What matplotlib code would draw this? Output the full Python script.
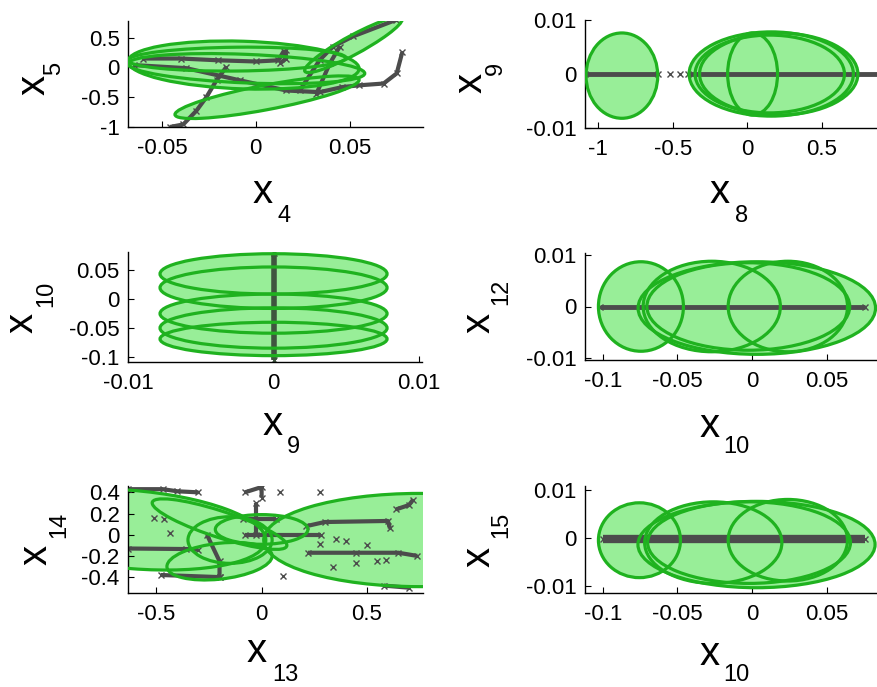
import matplotlib
matplotlib.use("Agg")
import matplotlib.pyplot as plt
from matplotlib.patches import Ellipse
from matplotlib.transforms import Affine2D
from matplotlib.ticker import FixedLocator, FuncFormatter

plt.rcParams['font.family'] = ['Liberation Sans', 'DejaVu Sans']

# ---------------------------------------------------------------
# Ellipses: (centre x, centre y, half-width, half-height, y-shift at the x extremes)
# Trajectories: polylines of the simulated states
# ---------------------------------------------------------------

# x4 / x5
p1_ellipses = [(-0.0065, 0.04, 0.0615, 0.40, -0.06),
               (-0.005, -0.02, 0.063, 0.24, -0.08),
               (-0.010, 0.14, 0.058, 0.20, 0.02),
               (0.006, -0.50, 0.049, 0.21, 0.29),
               (0.052, 0.38, 0.026, 0.18, 0.43)]
p1_tracks_x = [[-0.0457, -0.0386, -0.0316, -0.0263, -0.0209, -0.0156],
               [-0.065, -0.037, -0.0085, 0.0163, 0.034, 0.046, 0.055, 0.068, 0.075, 0.078],
               [-0.060, -0.040, -0.020, 0.0, 0.012, 0.015],
               [0.0234, 0.034, 0.0411, 0.0517, 0.0748],
               [0.0323, 0.0394, 0.0447],
               [0.013, 0.016, 0.016]]
p1_tracks_y = [[-1.0, -0.957, -0.727, -0.50, -0.216, 0.011],
               [0.04, -0.012, -0.216, -0.387, -0.415, -0.33, -0.30, -0.27, -0.10, 0.26],
               [0.15, 0.15, 0.12, 0.10, 0.12, 0.28],
               [-0.387, 0.124, 0.351, 0.521, 0.80],
               [-0.44, 0.067, 0.351],
               [0.07, 0.15, 0.29]]

# x8 / x9
p2_ellipses = [(-0.84, -0.0003, 0.24, 0.0079, 0.0),
               (0.16, 0.0, 0.55, 0.0078, 0.0),
               (0.21, 0.0, 0.53, 0.0076, 0.0),
               (0.15, 0.0, 0.50, 0.0072, 0.0),
               (0.035, 0.0, 0.167, 0.0076, 0.0)]
p2_tracks_x = [[-1.09, -0.60], [-0.40, 0.90]]
p2_tracks_y = [[0.0, 0.0], [0.0, 0.0]]
p2_points_x = [-0.52, -0.45]
p2_points_y = [0.0, 0.0]

# x9 / x10
p3_ellipses = [(0.0, 0.044, 0.0078, 0.035, 0.0),
               (0.0, 0.020, 0.0078, 0.036, 0.0),
               (0.0, -0.025, 0.0078, 0.034, 0.0),
               (0.0, -0.050, 0.0078, 0.035, 0.0),
               (0.0, -0.069, 0.0078, 0.029, 0.0)]
p3_tracks_x = [[0.0, 0.0]]
p3_tracks_y = [[-0.105, 0.080]]

# x10 / x12
p4_ellipses = [(-0.0745, 0.0, 0.0285, 0.0087, 0.0),
               (0.0032, -0.0003, 0.0796, 0.0090, 0.0),
               (-0.027, 0.0, 0.046, 0.0088, 0.0),
               (0.024, 0.0, 0.040, 0.0088, 0.0),
               (-0.0025, 0.0, 0.068, 0.0085, 0.0)]
p4_tracks_x = [[-0.102, 0.076]]
p4_tracks_y = [[0.0, 0.0]]

# x13 / x14
p5_ellipses = [(0.75, -0.05, 0.74, 0.44, 0.0),
               (-0.62, 0.05, 0.64, 0.37, -0.10),
               (-0.20, -0.25, 0.25, 0.17, 0.05),
               (0.0, 0.05, 0.22, 0.14, 0.0),
               (-0.20, 0.10, 0.32, 0.13, -0.20),
               (-0.15, -0.05, 0.20, 0.22, 0.0)]
p5_tracks_x = [[-0.635, -0.47, -0.40, -0.30],
               [-0.635, -0.36, -0.30],
               [0.21, 0.30, 0.60, 0.61],
               [0.22, 0.45, 0.65, 0.74],
               [0.58, 0.70],
               [0.64, 0.70, 0.72],
               [-0.025, -0.025],
               [-0.09, 0.07],
               [-0.08, 0.0, 0.0],
               [-0.08, 0.28],
               [-0.48, -0.20],
               [-0.26, -0.20, -0.20]]
p5_tracks_y = [[0.43, 0.43, 0.41, 0.40],
               [-0.13, -0.135, -0.14],
               [0.08, 0.12, 0.13, 0.06],
               [-0.17, -0.17, -0.17, -0.20],
               [-0.48, -0.50],
               [0.24, 0.28, 0.33],
               [0.30, 0.0],
               [0.15, 0.15],
               [0.40, 0.45, 0.35],
               [0.0, 0.0],
               [-0.38, -0.40],
               [0.0, -0.25, -0.40]]
p5_points_x = [0.087, 0.276, -0.51, -0.465, -0.435, 0.103, 0.34, 0.45, 0.55, 0.593,
               0.276, 0.355, 0.40, 0.50]
p5_points_y = [0.40, 0.40, 0.16, 0.147, 0.02, -0.39, -0.30, -0.27, -0.25, -0.236,
               -0.09, -0.044, -0.06, -0.10]

# x10 / x15
p6_ellipses = [(-0.0755, -0.0005, 0.0275, 0.0078, 0.0),
               (0.003, -0.0014, 0.0795, 0.0090, 0.0),
               (-0.026, -0.001, 0.046, 0.0085, 0.0),
               (0.024, -0.0005, 0.040, 0.0085, 0.0),
               (-0.002, -0.001, 0.068, 0.0085, 0.0)]
p6_tracks_x = [[-0.100, 0.076]]
p6_tracks_y = [[-0.0003, -0.0003]]

# ---------------------------------------------------------------
W, H = 877, 687
fig = plt.figure(figsize=(W / 100, H / 100), dpi=100)

FILL = '#98ee98'
EDGE = '#1fb21f'
GRAY = '#4c4c4c'


def make_axes(box, xlim, ylim, xticks, yticks):
    l, t, r, b = box
    ax = fig.add_axes([l / W, 1 - b / H, (r - l) / W, (b - t) / H])
    ax.set_xlim(*xlim)
    ax.set_ylim(*ylim)
    for side in ('top', 'right'):
        ax.spines[side].set_visible(False)
    for side in ('left', 'bottom'):
        ax.spines[side].set_linewidth(1.0)
    ax.xaxis.set_major_locator(FixedLocator(xticks))
    ax.yaxis.set_major_locator(FixedLocator(yticks))
    fmt = FuncFormatter(lambda v, p: '%g' % v)
    ax.xaxis.set_major_formatter(fmt)
    ax.yaxis.set_major_formatter(fmt)
    ax.tick_params(direction='in', length=4, width=0.8, labelsize=16,
                   top=False, right=False)
    ax.tick_params(axis='x', pad=8)
    ax.tick_params(axis='y', pad=6)
    ax.patch.set_alpha(0)
    return ax


def draw_ellipses(ax, ellipses):
    for cx, cy, rx, ry, s in ellipses:
        tr = Affine2D.from_values(rx, s, 0, ry, cx, cy) + ax.transData
        ax.add_patch(Ellipse((0, 0), 2, 2, transform=tr, facecolor=FILL,
                             edgecolor='none', zorder=1))
    for cx, cy, rx, ry, s in ellipses:
        tr = Affine2D.from_values(rx, s, 0, ry, cx, cy) + ax.transData
        ax.add_patch(Ellipse((0, 0), 2, 2, transform=tr, fill=False,
                             edgecolor=EDGE, linewidth=2.3, zorder=3))


def draw_tracks(ax, xs, ys, lw=3.0, color=GRAY):
    for x, y in zip(xs, ys):
        ax.plot(x, y, color=color, lw=lw, marker='x', ms=4, mew=1,
                solid_capstyle='butt', zorder=2)


def label(xsub, ysub, xl, yl):
    # xl: (left px, baseline px, sub-left px, sub-baseline px)
    # yl: (baseline px, bottom px, sub-baseline px, sub-bottom px)
    fig.text(xl[0] / W, 1 - xl[1] / H, 'x', fontsize=29, ha='left', va='baseline')
    fig.text(xl[2] / W, 1 - xl[3] / H, xsub, fontsize=17, ha='left', va='baseline')
    fig.text(yl[0] / W, 1 - yl[1] / H, 'x', fontsize=29, ha='left', va='baseline',
             rotation=90, rotation_mode='anchor')
    fig.text(yl[2] / W, 1 - yl[3] / H, ysub, fontsize=17, ha='left', va='baseline',
             rotation=90, rotation_mode='anchor')


# Panel x4 / x5
ax = make_axes((128, 21, 423, 127), (-0.068, 0.089), (-1, 0.78),
               [-0.05, 0, 0.05], [-1, -0.5, 0, 0.5])
draw_ellipses(ax, p1_ellipses)
draw_tracks(ax, p1_tracks_x, p1_tracks_y, lw=3.0)
label('4', '5', (253, 203, 278, 222), (45, 95, 60, 75))

# Panel x8 / x9
ax = make_axes((585, 20, 880, 128), (-1.087, 0.888), (-0.01, 0.01),
               [-1, -0.5, 0, 0.5], [-0.01, 0, 0.01])
draw_ellipses(ax, p2_ellipses)
draw_tracks(ax, p2_tracks_x, p2_tracks_y, lw=3.5)
ax.plot(p2_points_x, p2_points_y, ls='none', marker='x', ms=5, mew=1,
        color=GRAY, zorder=2)
label('8', '9', (710, 203, 735, 222), (482, 93, 502, 75))

# Panel x9 / x10
ax = make_axes((128, 252, 422, 362), (-0.01, 0.0102), (-0.109, 0.082),
               [-0.01, 0, 0.01], [-0.1, -0.05, 0, 0.05])
draw_ellipses(ax, p3_ellipses)
draw_tracks(ax, p3_tracks_x, p3_tracks_y, lw=4.0, color='#3f553f')
label('9', '10', (263, 435, 287, 453), (33, 333, 52, 307))

# Panel x10 / x12
ax = make_axes((585, 253, 880, 360), (-0.112, 0.0858), (-0.0104, 0.0104),
               [-0.1, -0.05, 0, 0.05], [-0.01, 0, 0.01])
draw_ellipses(ax, p4_ellipses)
draw_tracks(ax, p4_tracks_x, p4_tracks_y, lw=3.5)
label('10', '12', (700, 437, 723, 453), (490, 333, 507, 305))

# Panel x13 / x14
ax = make_axes((128, 486, 423, 593), (-0.635, 0.767), (-0.55, 0.46),
               [-0.5, 0, 0.5], [-0.4, -0.2, 0, 0.2, 0.4])
draw_ellipses(ax, p5_ellipses)
draw_tracks(ax, p5_tracks_x, p5_tracks_y, lw=3.0)
ax.plot(p5_points_x, p5_points_y, ls='none', marker='x', ms=5, mew=1,
        color=GRAY, zorder=2)
label('13', '14', (247, 662, 272, 681), (47, 565, 65, 538))

# Panel x10 / x15
ax = make_axes((585, 486, 880, 593), (-0.112, 0.0858), (-0.0115, 0.0108),
               [-0.1, -0.05, 0, 0.05], [-0.01, 0, 0.01])
draw_ellipses(ax, p6_ellipses)
draw_tracks(ax, p6_tracks_x, p6_tracks_y, lw=6.0)
label('10', '15', (700, 665, 723, 681), (490, 567, 507, 538))

fig.savefig('out.png', dpi=100, facecolor='white')
